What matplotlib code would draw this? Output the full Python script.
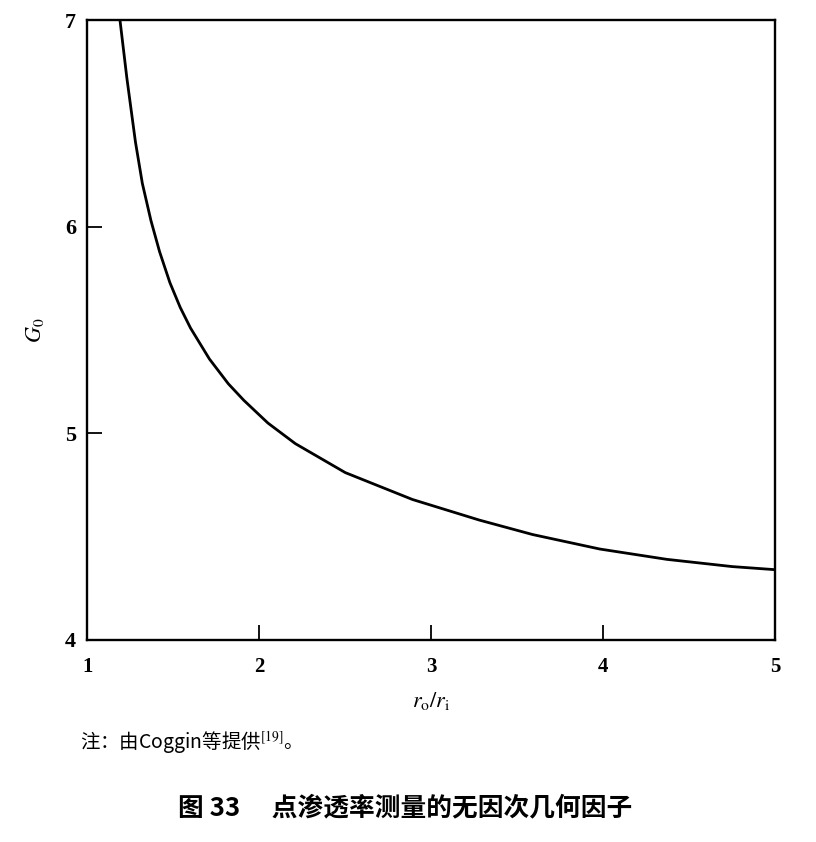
import matplotlib
matplotlib.use("Agg")
import matplotlib.pyplot as plt

plt.rcParams['font.family'] = ['Liberation Serif', 'Noto Sans CJK SC', 'DejaVu Sans']
plt.rcParams['mathtext.fontset'] = 'stix'

# values (corrected for the slight tilt of the scan)
ratio = [1.19, 1.23, 1.28, 1.32, 1.37, 1.42, 1.48, 1.54, 1.60, 1.71,
         1.82, 1.91, 2.05, 2.21, 2.50, 2.89, 3.28, 3.59, 3.98, 4.37,
         4.75, 5.00]
g0 = [7.00, 6.72, 6.41, 6.21, 6.03, 5.88, 5.73, 5.61, 5.51, 5.36,
      5.24, 5.16, 5.05, 4.95, 4.81, 4.68, 4.58, 4.51, 4.44, 4.39,
      4.355, 4.34]
xticks = [1, 2, 3, 4, 5]
yticks = [4, 5, 6, 7]

fig = plt.figure(figsize=(8.16, 8.42), dpi=100)
ax = fig.add_axes([0.107, 0.24, 0.843, 0.736])
ax.plot(ratio, g0, color='black', lw=2.0, solid_joinstyle='round')

ax.set_xlim(1, 5)
ax.set_ylim(4, 7)
ax.set_xticks(xticks)
ax.set_yticks(yticks)
ax.tick_params(direction='in', length=11, width=1.3)
ax.tick_params(axis='x', pad=12, labelsize=15)
ax.tick_params(axis='y', pad=8, labelsize=16)
for s in ax.spines.values():
    s.set_linewidth(1.7)
for lab in ax.get_xticklabels() + ax.get_yticklabels():
    lab.set_fontweight('bold')

ax.set_xlabel(r'$r_{\rm o}/r_{\rm i}$', fontsize=16, labelpad=10)
ax.set_ylabel(r'$G_0$', fontsize=16, labelpad=14)

fig.text(0.098, 0.118, '注：由Coggin等提供$^{[19]}$。', fontsize=14,
         family=['Noto Sans CJK SC', 'DejaVu Sans'], va='center')
fig.text(0.496, 0.040, '图 33 \u3000点渗透率测量的无因次几何因子', fontsize=18.5,
         fontweight='bold', family=['Noto Sans CJK SC', 'DejaVu Sans'],
         ha='center', va='center')

fig.savefig('out.png', dpi=100)
